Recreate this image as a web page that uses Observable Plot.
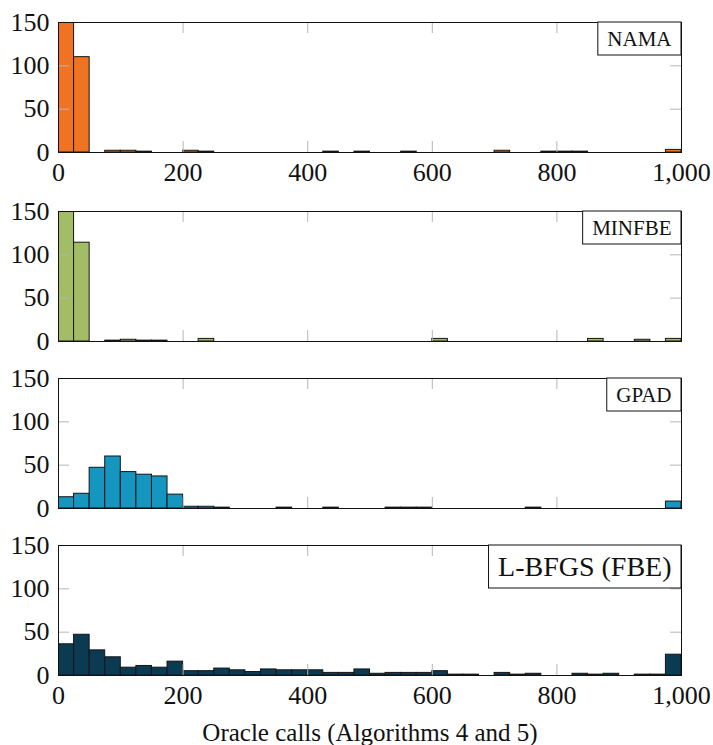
<!DOCTYPE html>
<html><head><meta charset="utf-8">
<script src="https://cdn.jsdelivr.net/npm/d3@7"></script>
<script src="https://cdn.jsdelivr.net/npm/@observablehq/plot@0.6"></script>
<style>
body{margin:0;background:#fff;}
#chart{position:relative;width:713px;height:745px;overflow:hidden;font-family:"Liberation Serif","Times New Roman",serif;}
#chart > svg{position:absolute;left:0;}
</style></head><body><div id="chart"></div>
<script>
// Histogram bins (oracle calls), width 25, from 0 to 1000
const binWidth = 25;
const binStarts = d3.range(0, 1000, binWidth);

const algorithms = ["NAMA", "MINFBE", "GPAD", "L-BFGS (FBE)"];
const colors = ["#F07323", "#A2BD66", "#1596C0", "#0B3A53"];

const namaCounts   = [161,110,0,2,2,1,0,0,2,1, 0,0,0,0,0,0,0,1,0,1, 0,0,1,0,0,0,0,0,2,0, 0,1,1,1,0,0,0,0,0,3];
const minfbeCounts = [165,114,0,1,2,1,1,0,0,3, 0,0,0,0,0,0,0,0,0,0, 0,0,0,0,3,0,0,0,0,0, 0,0,0,0,3,0,0,2,0,3];
const gpadCounts   = [13,17,47,60,42,39,37,16,2,2, 1,0,0,0,1,0,0,1,0,0, 0,1,1,1,0,0,0,0,0,0, 1,0,0,0,0,0,0,0,0,8];
const lbfgsCounts  = [36,47,29,21,9,11,9,16,5,5, 8,6,4,7,6,6,6,3,3,7, 2,3,3,3,5,1,1,0,3,1, 2,0,0,2,1,2,0,1,1,24];
const seriesCounts = [namaCounts, minfbeCounts, gpadCounts, lbfgsCounts];

const xTicks = [0, 200, 400, 600, 800, 1000];
const yTicks = [0, 50, 100, 150];
const xLabel = "Oracle calls (Algorithms 4 and 5)";

// layout
const W = 713, mL = 58, mR = 32, mT = 20, ph = 130;
const pw = W - mL - mR;
const panelTops = [22, 211, 378, 545];
const showXLabels = [true, false, false, true];
const legendFont = [21, 21, 21, 28];
const font = '"Liberation Serif","Times New Roman",serif';
const tickGray = "#b5b5b5";

const chart = document.getElementById("chart");

algorithms.forEach((name, i) => {
  const data = binStarts.map((x0, j) => ({x1: x0, x2: x0 + binWidth, y: seriesCounts[i][j]})).filter(d => d.y > 0);
  const mB = i === 3 ? 70 : (i === 0 ? 50 : 8);
  const boxH = Math.round(legendFont[i] * 1.55);
  const marks = [
    Plot.rectY(data, {x1: "x1", x2: "x2", y: "y", fill: colors[i], stroke: "#151515", strokeWidth: 1, clip: true}),
    Plot.tickX(xTicks, {x: d => d, stroke: tickGray, strokeWidth: 1, insetTop: ph - 11}),
    Plot.tickX(xTicks, {x: d => d, stroke: tickGray, strokeWidth: 1, insetBottom: ph - 11}),
    Plot.tickY(yTicks, {y: d => d, stroke: tickGray, strokeWidth: 1, insetRight: pw - 11}),
    Plot.tickY(yTicks, {y: d => d, stroke: tickGray, strokeWidth: 1, insetLeft: pw - 11}),
    Plot.frame({stroke: "#111", strokeWidth: 1}),
    Plot.axisY({ticks: yTicks, tickSize: 0, tickPadding: 9, label: null, fill: "#111"}),
    Plot.text([name], {text: d => d, frameAnchor: "top-right", dx: -10, dy: boxH / 2, textAnchor: "end", lineAnchor: "middle", fontSize: legendFont[i], fill: "#111"})
  ];
  if (showXLabels[i]) {
    marks.push(Plot.axisX({ticks: xTicks, tickSize: 0, tickPadding: 10, tickFormat: d3.format(","), label: null, fill: "#111"}));
  }
  if (i === 3) {
    marks.push(Plot.text([xLabel], {text: d => d, frameAnchor: "bottom", dy: 57, lineAnchor: "middle", fontSize: 25, fill: "#111"}));
  }
  const svg = Plot.plot({
    width: W, height: mT + ph + mB,
    marginLeft: mL, marginRight: mR, marginTop: mT, marginBottom: mB,
    style: {fontFamily: font, fontSize: "26px", background: "transparent", overflow: "visible", color: "#111"},
    x: {domain: [0, 1000], axis: null},
    y: {domain: [0, 150], axis: null},
    marks
  });
  svg.style.top = (panelTops[i] - mT) + "px";
  chart.appendChild(svg);

  // box around the legend label (measured in svg pixel space)
  const t = Array.from(svg.querySelectorAll("text")).find(el => el.textContent === name);
  if (t) {
    const tr = t.getBoundingClientRect();
    const sr = svg.getBoundingClientRect();
    const left = tr.left - sr.left - 9.5;
    const rect = document.createElementNS("http://www.w3.org/2000/svg", "rect");
    rect.setAttribute("x", left);
    rect.setAttribute("y", mT);
    rect.setAttribute("width", (W - mR) - left);
    rect.setAttribute("height", boxH);
    rect.setAttribute("fill", "white");
    rect.setAttribute("stroke", "#111");
    rect.setAttribute("stroke-width", 1);
    const g = t.closest("g[aria-label]") || t.parentNode;
    g.parentNode.insertBefore(rect, g);
  }
});
</script>
</body></html>
